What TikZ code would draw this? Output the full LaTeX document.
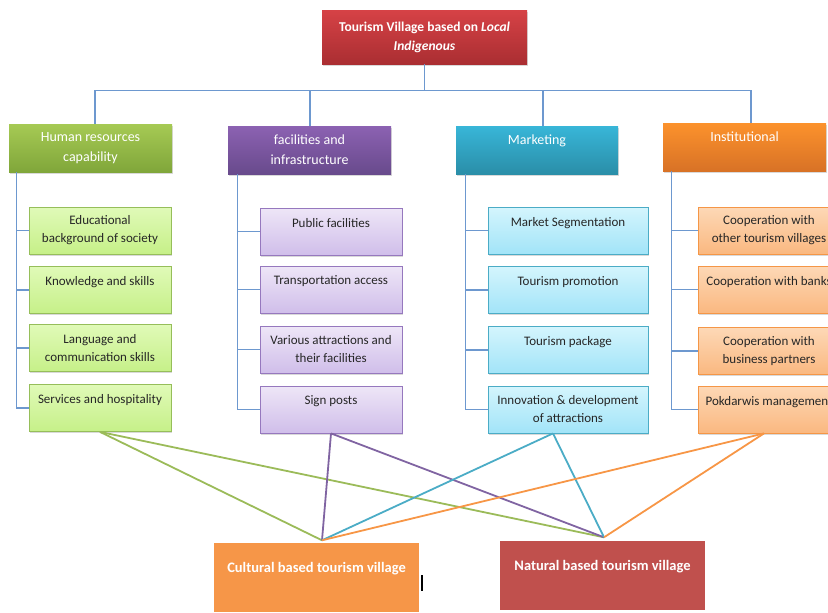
\documentclass[tikz,border=0pt]{standalone}
\usepackage{fontspec}
\setmainfont{Carlito}
\usetikzlibrary{shadows}
\definecolor{treeblue}{HTML}{6D98CF}
\definecolor{gLine}{HTML}{9BBB59}
\definecolor{pLine}{HTML}{8064A2}
\definecolor{cLine}{HTML}{4BACC6}
\definecolor{oLine}{HTML}{F79646}
\definecolor{gTop}{RGB}{224,250,184}
\definecolor{gBot}{RGB}{198,240,136}
\definecolor{gBrd}{RGB}{150,190,90}
\definecolor{pTop}{RGB}{238,230,247}
\definecolor{pBot}{RGB}{208,190,234}
\definecolor{pBrd}{RGB}{150,120,190}
\definecolor{cTopC}{RGB}{212,245,253}
\definecolor{cBot}{RGB}{162,228,248}
\definecolor{cBrd}{RGB}{75,172,198}
\definecolor{oTop}{RGB}{253,216,182}
\definecolor{oBot}{RGB}{250,184,128}
\definecolor{oBrd}{RGB}{245,150,70}
\begin{document}
\begin{tikzpicture}[x=1pt,y=-1pt,
  box/.style={rectangle, inner sep=0pt, align=center,
    drop shadow={shadow xshift=1pt,shadow yshift=-1.5pt,opacity=0.3}},
  catbox/.style={box, minimum width=163pt, minimum height=48pt, text=white,
    font=\fontsize{14}{20}\selectfont},
  subbox/.style={box, minimum width=142pt, minimum height=47pt, text=black!85,
    font=\fontsize{13}{18}\selectfont, line width=0.8pt},
  gsub/.style={subbox, draw=gBrd, top color=gTop, bottom color=gBot},
  psub/.style={subbox, draw=pBrd, top color=pTop, bottom color=pBot},
  csub/.style={subbox, draw=cBrd, top color=cTopC, bottom color=cBot},
  osub/.style={subbox, draw=oBrd, top color=oTop, bottom color=oBot},
  tree/.style={draw=treeblue, line width=1.2pt},
  link/.style={line width=1.8pt},
  endbox/.style={rectangle, inner sep=0pt, align=center, text=white,
    font=\bfseries\fontsize{14.5}{20}\selectfont, minimum width=205pt, minimum height=69pt}
]
\useasboundingbox (0,0) rectangle (828,613);
\clip (0,0) rectangle (828,613);

% top
\node[box, minimum width=205pt, minimum height=54pt, text=white,
  top color={rgb,255:red,214;green,66;blue,70}, bottom color={rgb,255:red,170;green,46;blue,50},
  font=\bfseries\fontsize{13.5}{19}\selectfont] (top) at (424.5,37)
  {Tourism Village based on \textit{Local}\\\textit{Indigenous}};

% categories
\node[catbox, top color={rgb,255:red,166;green,202;blue,84}, bottom color={rgb,255:red,128;green,166;blue,58}]
  (catg) at (90.5,148) {Human resources\\capability};
\node[catbox, top color={rgb,255:red,140;green,98;blue,178}, bottom color={rgb,255:red,104;green,74;blue,140}]
  (catp) at (309.5,150) {facilities and\\infrastructure};
\node[catbox, minimum width=162pt, top color={rgb,255:red,56;green,182;blue,216}, bottom color={rgb,255:red,42;green,142;blue,168}]
  (catc) at (537,150) {Marketing\\~};
\node[catbox, top color={rgb,255:red,252;green,146;blue,44}, bottom color={rgb,255:red,216;green,114;blue,38}]
  (cato) at (744.5,147) {Institutional\\~};

% sub boxes
\node[gsub] (g1) at (100,230.5) {Educational\\background of society};
\node[gsub] (g2) at (100,290) {Knowledge and skills\\~};
\node[gsub] (g3) at (100,348) {Language and\\communication skills};
\node[gsub] (g4) at (100,408) {Services and hospitality\\~};

\node[psub] (p1) at (331,231.5) {Public facilities\\~};
\node[psub] (p2) at (331,289.5) {Transportation access\\~};
\node[psub] (p3) at (331,349.5) {Various attractions and\\their facilities};
\node[psub] (p4) at (331,409.5) {Sign posts\\~};

\node[csub, minimum width=160pt] (c1) at (568,230.5) {Market Segmentation\\~};
\node[csub, minimum width=160pt] (c2) at (568,290) {Tourism promotion\\~};
\node[csub, minimum width=160pt] (c3) at (568,350) {Tourism package\\~};
\node[csub, minimum width=160pt] (c4) at (568,409.5) {Innovation \& development\\of attractions};

\node[osub] (o1) at (769,230.5) {Cooperation with\\other tourism villages};
\node[osub] (o2) at (769,289.5) {Cooperation with banks\\~};
\node[osub] (o3) at (769,351) {Cooperation with\\business partners};
\node[osub] (o4) at (769,409.5) {Pokdarwis management\\~};

% tree
\path (top.south) ++(0,26) coordinate (bus);
\draw[tree] (top.south) -- (bus);
\foreach \n/\s in {catg/4.5,catp/0.5,catc/6,cato/6.5}
  \draw[tree] (bus) -| ([xshift=\s pt]\n.north);
\foreach \c/\s in {g/8,p/10,c/10,o/9}
  \foreach \i in {1,...,4}
    \draw[tree] ([xshift=\s pt]cat\c.south west) |- (\c\i.west);

% bottom boxes
\node[endbox, fill={rgb,255:red,246;green,150;blue,72}] (cult) at (316.5,577) {Cultural based tourism village\\~};
\node[endbox, fill={rgb,255:red,192;green,80;blue,77}] (nat) at (602.5,575) {Natural based tourism village\\~};
\fill[black] (420.5,575) rectangle (422.5,591);

\coordinate (cTop) at ([xshift=5.5pt,yshift=2pt]cult.north);
\coordinate (nTop) at ([xshift=1.5pt,yshift=3pt]nat.north);

\draw[link, gLine] (g4.south) -- (cTop);
\draw[link, gLine] (g4.south) -- (nTop);
\draw[link, pLine] (p4.south) -- (cTop);
\draw[link, pLine] (p4.south) -- (nTop);
\draw[link, cLine] ([xshift=-15pt]c4.south) -- (cTop);
\draw[link, cLine] ([xshift=-15pt]c4.south) -- (nTop);
\draw[link, oLine] ([xshift=-5pt]o4.south) -- (cTop);
\draw[link, oLine] ([xshift=-5pt]o4.south) -- (nTop);
\end{tikzpicture}
\end{document}
